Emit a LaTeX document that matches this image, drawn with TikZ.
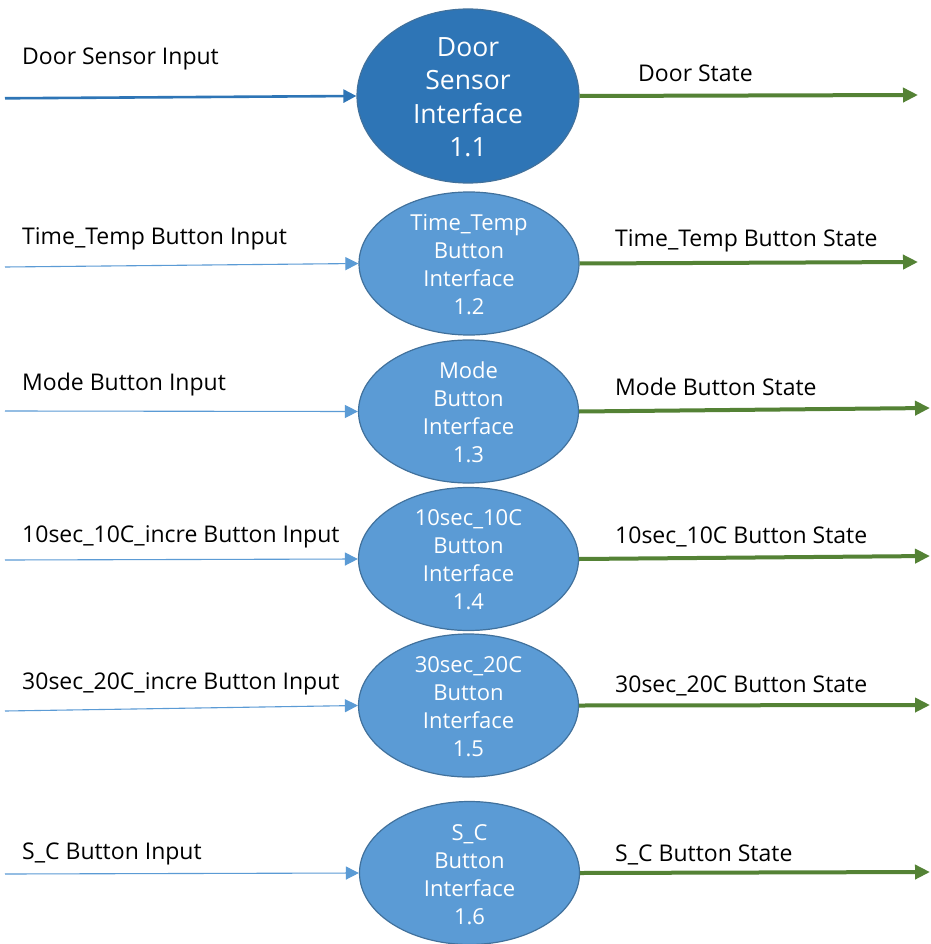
\documentclass[tikz,border=0pt]{standalone}
\usepackage{fontspec}
\setmainfont{Open Sans}
\usetikzlibrary{arrows.meta,shapes.geometric}
\definecolor{darkblue}{HTML}{2E75B6}
\definecolor{lightblue}{HTML}{5B9BD5}
\definecolor{edgeblue}{HTML}{41719C}
\definecolor{flowgreen}{HTML}{548235}
\begin{document}
\begin{tikzpicture}[x=1pt,y=-1pt,
 procbox/.style={draw=edgeblue, line width=1.2pt, fill=lightblue, shape=ellipse, inner sep=0pt, minimum width=220pt, minimum height=143pt},
 proctext/.style={text=white, align=center, inner sep=0pt, font=\fontsize{22}{28}\selectfont},
 lbl/.style={anchor=base west, inner sep=0pt, font=\fontsize{23}{27}\selectfont},
 inflow/.style={draw=lightblue, line width=1.1pt, -{Triangle[length=13pt,width=13pt]}},
 mainflow/.style={draw=darkblue, line width=2.6pt, -{Triangle[length=13pt,width=13pt]}},
 outflow/.style={draw=flowgreen, line width=4pt, -{Triangle[length=15pt,width=14pt]}}]
\useasboundingbox (0,0) rectangle (930,944);
\fill[white] (0,0) rectangle (930,944);
% processes
\node[procbox, fill=darkblue, minimum width=222pt, minimum height=174pt] (p1) at (468,96) {};
\node[procbox] (p2) at (469,263.5) {};
\node[procbox] (p3) at (468.5,411.5) {};
\node[procbox] (p4) at (468.5,559) {};
\node[procbox] (p5) at (468.5,705.5) {};
\node[procbox] (p6) at (469.5,873) {};
\node[proctext, font=\fontsize{26.5}{33.5}\selectfont] (t1) at (468,97) {Door\\Sensor\\Interface\\1.1};
\node[proctext] (t2) at (469,265) {Time\_Temp\\Button\\Interface\\1.2};
\node[proctext] (t3) at (468.5,412) {Mode\\Button\\Interface\\1.3};
\node[proctext] (t4) at (468.5,560) {10sec\_10C\\Button\\Interface\\1.4};
\node[proctext] (t5) at (468.5,707) {30sec\_20C\\Button\\Interface\\1.5};
\node[proctext] (t6) at (469.5,875) {S\_C\\Button\\Interface\\1.6};
% free ends
\coordinate (a1) at (5,98.3);
\coordinate (a2) at (5,267);
\coordinate (a3) at (5,411);
\coordinate (a4) at (5,560);
\coordinate (a5) at (5,711);
\coordinate (a6) at (5,874);
\coordinate (b1) at (918,95);
\coordinate (b2) at (918,262);
\coordinate (b3) at (930,408);
\coordinate (b4) at (930,556);
\coordinate (b5) at (930,705);
\coordinate (b6) at (930,872);
% flows
\draw[mainflow] (a1) -- (p1.west);
\draw[inflow] (a2) -- (p2.west);
\draw[inflow] (a3) -- (p3.west);
\draw[inflow] (a4) -- (p4.west);
\draw[inflow] (a5) -- (p5.west);
\draw[inflow] (a6) -- (p6.west);
\draw[outflow] (p1.east) -- (b1);
\draw[outflow] (p2.east) -- (b2);
\draw[outflow] (p3.east) -- (b3);
\draw[outflow] (p4.east) -- (b4);
\draw[outflow] (p5.east) -- (b5);
\draw[outflow] (p6.east) -- (b6);
% labels
\node[lbl] (l1) at (22,64.3) {Door Sensor Input};
\node[lbl] (l2) at (22,244) {Time\_Temp Button Input};
\node[lbl] (l3) at (22,390) {Mode Button Input};
\node[lbl] (l4) at (22,542) {10sec\_10C\_incre Button Input};
\node[lbl] (l5) at (22,689) {30sec\_20C\_incre Button Input};
\node[lbl] (l6) at (22,859) {S\_C Button Input};
\node[lbl] (r1) at (638,81.7) {Door State};
\node[lbl] (r2) at (615,246.7) {Time\_Temp Button State};
\node[lbl] (r3) at (615,395) {Mode Button State};
\node[lbl] (r4) at (615,543) {10sec\_10C Button State};
\node[lbl] (r5) at (615,692) {30sec\_20C Button State};
\node[lbl] (r6) at (615,861) {S\_C Button State};
\end{tikzpicture}
\end{document}
